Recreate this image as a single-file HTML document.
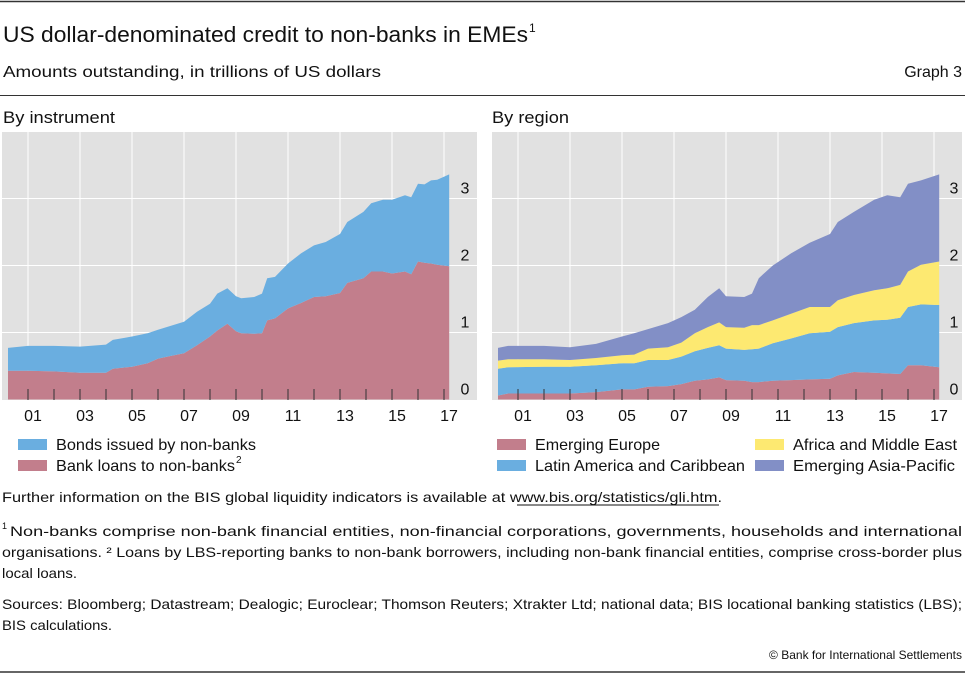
<!DOCTYPE html>
<html><head><meta charset="utf-8"><style>
body{margin:0;background:#fff;}
svg{display:block;font-family:"Liberation Sans",sans-serif;}
</style></head><body>
<svg id="s" width="965" height="674" viewBox="0 0 965 674">
<line x1="0" y1="1.5" x2="965" y2="1.5" stroke="#333" stroke-width="1.5"/>
<text x="3" y="42" font-size="22" fill="#111" textLength="525" lengthAdjust="spacingAndGlyphs">US dollar-denominated credit to non-banks in EMEs</text>
<text x="529" y="32" font-size="12" fill="#111">1</text>
<text x="3" y="77" font-size="16" fill="#111" textLength="378" lengthAdjust="spacingAndGlyphs">Amounts outstanding, in trillions of US dollars</text>
<text x="962" y="77" font-size="16" fill="#111" text-anchor="end">Graph 3</text>
<line x1="0" y1="95.5" x2="965" y2="95.5" stroke="#333" stroke-width="1"/>
<text x="3" y="123" font-size="17" fill="#111" textLength="112" lengthAdjust="spacingAndGlyphs">By instrument</text>
<text x="492" y="123" font-size="17" fill="#111" textLength="77" lengthAdjust="spacingAndGlyphs">By region</text>
<g id="left"></g>
<g id="right"></g>
<g font-size="16" fill="#111">
<rect x="18" y="439" width="29" height="11" fill="#6aaee0"/>
<text x="56" y="450" textLength="200" lengthAdjust="spacingAndGlyphs">Bonds issued by non-banks</text>
<rect x="18" y="460" width="29" height="11" fill="#c27e8c"/>
<text x="56" y="471" textLength="179" lengthAdjust="spacingAndGlyphs">Bank loans to non-banks</text>
<text x="236" y="463" font-size="10">2</text>
</g>
<g font-size="16" fill="#111">
<rect x="497" y="439" width="29" height="11" fill="#c27e8c"/>
<text x="535" y="450" textLength="125" lengthAdjust="spacingAndGlyphs">Emerging Europe</text>
<rect x="497" y="460" width="29" height="11" fill="#6aaee0"/>
<text x="535" y="471" textLength="210" lengthAdjust="spacingAndGlyphs">Latin America and Caribbean</text>
<rect x="755" y="439" width="29" height="11" fill="#fde971"/>
<text x="793" y="450" textLength="164" lengthAdjust="spacingAndGlyphs">Africa and Middle East</text>
<rect x="755" y="460" width="29" height="11" fill="#828fc6"/>
<text x="793" y="471" textLength="162" lengthAdjust="spacingAndGlyphs">Emerging Asia-Pacific</text>
</g>
<g font-size="14" fill="#111">
<text x="2" y="502" textLength="720" lengthAdjust="spacingAndGlyphs">Further information on the BIS global liquidity indicators is available at www.bis.org/statistics/gli.htm.</text>
<line x1="517" y1="505" x2="719" y2="505" stroke="#111" stroke-width="1"/>
<text x="2" y="529" font-size="9">1</text>
<text x="10" y="536" textLength="952" lengthAdjust="spacingAndGlyphs">Non-banks    comprise    non-bank    financial    entities,    non-financial    corporations,    governments,    households    and    international</text>
<text x="2" y="557" textLength="960" lengthAdjust="spacingAndGlyphs">organisations.    ² Loans by LBS-reporting banks to non-bank borrowers, including non-bank financial entities, comprise cross-border plus</text>
<text x="2" y="578" textLength="75" lengthAdjust="spacingAndGlyphs">local loans.</text>
<text x="2" y="609" textLength="960" lengthAdjust="spacingAndGlyphs">Sources: Bloomberg; Datastream; Dealogic; Euroclear; Thomson Reuters; Xtrakter Ltd; national data; BIS locational banking statistics (LBS);</text>
<text x="2" y="630" textLength="110" lengthAdjust="spacingAndGlyphs">BIS calculations.</text>
<text x="962" y="659" font-size="12" text-anchor="end">© Bank for International Settlements</text>
</g>
<line x1="0" y1="672" x2="965" y2="672" stroke="#333" stroke-width="1.5"/>
</svg>
<script>
// Left panel data (year fraction, trillions USD)
const leftTimes = [2000.23,2001.0,2002.0,2003.0,2004.0,2004.26,2005.0,2005.6,2006.0,2006.5,2007.0,2007.5,2008.0,2008.28,2008.67,2009.0,2009.2,2009.7,2010.0,2010.2,2010.5,2011.0,2011.5,2012.0,2012.45,2013.0,2013.28,2013.9,2014.2,2014.65,2015.0,2015.5,2015.74,2016.0,2016.25,2016.5,2016.74,2017.2];
const loans = [.43,.43,.42,.40,.40,.46,.49,.54,.61,.65,.69,.81,.94,1.03,1.13,1.02,.99,.98,.99,1.18,1.21,1.36,1.44,1.53,1.54,1.59,1.74,1.81,1.91,1.91,1.88,1.91,1.87,2.06,2.04,2.03,2.01,1.99];
const bonds = [.34,.37,.38,.39,.42,.43,.45,.45,.43,.45,.47,.50,.49,.55,.53,.52,.52,.55,.59,.63,.62,.67,.74,.77,.81,.88,.91,.99,1.02,1.07,1.10,1.14,1.15,1.16,1.17,1.24,1.27,1.37];
// Right panel data
const rightTimes = [2000.23,2000.62,2002.0,2003.0,2004.0,2005.0,2005.47,2006.0,2006.77,2007.28,2007.8,2008.3,2008.74,2009.0,2009.7,2010.0,2010.26,2010.8,2011.5,2012.22,2013.0,2013.3,2013.92,2014.7,2015.2,2015.7,2016.0,2016.5,2017.2];
const europe = [.06,.09,.09,.09,.11,.15,.15,.19,.20,.23,.28,.30,.33,.29,.28,.26,.26,.28,.29,.30,.31,.36,.41,.40,.39,.38,.51,.51,.48];
const latam = [.40,.39,.40,.40,.40,.39,.39,.40,.39,.41,.44,.47,.48,.47,.46,.49,.50,.56,.62,.69,.70,.72,.73,.78,.80,.84,.87,.91,.93];
const africa = [.12,.12,.11,.10,.11,.12,.13,.17,.19,.21,.27,.31,.34,.32,.33,.36,.35,.34,.37,.39,.37,.40,.42,.45,.47,.49,.53,.59,.65];
const asia = [.19,.20,.20,.19,.21,.28,.32,.29,.36,.38,.35,.45,.51,.46,.46,.47,.70,.82,.90,.96,1.09,1.17,1.24,1.35,1.39,1.31,1.31,1.26,1.30];
const yTicks = [0,1,2,3];
const xLabels = ["01","03","05","07","09","11","13","15","17"];

const NS="http://www.w3.org/2000/svg";
function mk(tag,attrs,parent){const e=document.createElementNS(NS,tag);for(const k in attrs)e.setAttribute(k,attrs[k]);parent.appendChild(e);return e;}
const yScale=v=>399.5-v*67;
function drawPanel(g,x0,x1,times,series,colors,names,lblX){
  const xs=t=>x0+26+(t-2001)*26;
  const bg=mk('rect',{x:x0,y:132,width:x1-x0,height:268,fill:'#e1e1e1'},g);
  
  
  for(let y=2001;y<=2017;y+=2){const l=mk('line',{x1:xs(y),x2:xs(y),y1:132,y2:400,stroke:'#fff','stroke-width':1},g);
    
    }
  yTicks.forEach(v=>{if(v>0){const l=mk('line',{x1:x0,x2:x1,y1:yScale(v),y2:yScale(v),stroke:'#fff','stroke-width':1},g);
    
    }});
  let base=times.map(()=>0);
  series.forEach((s,i)=>{
    const top=base.map((b,j)=>b+s[j]);
    let d='M'+times.map((t,j)=>xs(t).toFixed(1)+','+yScale(top[j]).toFixed(1)).join('L');
    for(let j=times.length-1;j>=0;j--)d+='L'+xs(times[j]).toFixed(1)+','+yScale(base[j]).toFixed(1);
    const p=mk('path',{d:d+'Z',fill:colors[i]},g);
    
    
    base=top;
  });
  for(let y=2001;y<=2017;y++){const l=mk('line',{x1:xs(y),x2:xs(y),y1:389,y2:400,stroke:'#333','stroke-width':1},g);
    
    }
  yTicks.forEach(v=>{const t=mk('text',{x:lblX,y:yScale(v)-5,'font-size':16,fill:'#111','text-anchor':'middle'},g);t.textContent=v;
    
    });
  xLabels.forEach((s,i)=>{const t=mk('text',{x:xs(2001+2*i)+5,y:421,'font-size':16,fill:'#111','text-anchor':'middle'},g);t.textContent=s;
    
    });
}
drawPanel(document.getElementById('left'),2,477,leftTimes,[loans,bonds],['#c27e8c','#6aaee0'],['area-bank-loans','area-bonds'],465);
drawPanel(document.getElementById('right'),492,962,rightTimes,[europe,latam,africa,asia],['#c27e8c','#6aaee0','#fde971','#828fc6'],['area-emerging-europe','area-latin-america','area-africa-middle-east','area-emerging-asia'],954);
</script>
</body></html>
